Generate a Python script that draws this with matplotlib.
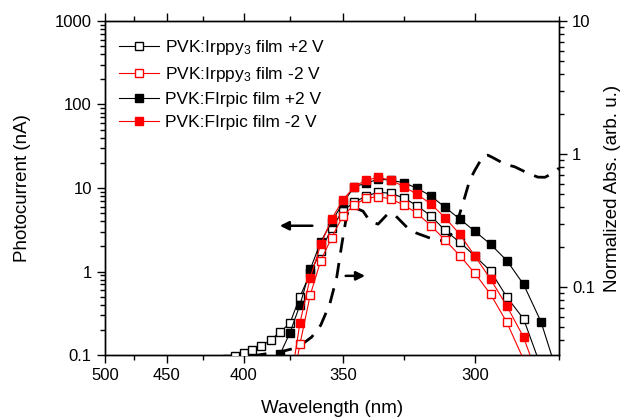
import numpy as np
import matplotlib
matplotlib.use("Agg")
import matplotlib.pyplot as plt
from matplotlib.ticker import FixedLocator, FixedFormatter, LogLocator, NullFormatter

plt.rcParams['font.family'] = ['Liberation Sans', 'DejaVu Sans']
plt.rcParams['mathtext.default'] = 'regular'

TICKLBLSIZE = 12
LEGENDSIZE = 12.5
AXISLBLSIZE = 13.5

# photocurrent, PVK:Irppy3 film +2 V (open black)
wl_irppy_p = [410, 405, 400, 395, 390, 385, 380, 375, 370, 365, 360, 355, 350, 345,
              340, 335, 330, 325, 320, 315, 310, 305, 300, 295, 290, 285, 280]
pc_irppy_p = [0.09, 0.098, 0.105, 0.115, 0.129, 0.151, 0.19, 0.24, 0.5, 0.95, 1.77, 3.29,
              5.35, 6.74, 8.02, 8.89, 8.64, 7.59, 6.14, 4.62, 3.11, 2.24, 1.53, 1.01,
              0.495, 0.27, 0.072]

# PVK:Irppy3 film -2 V (open red)
wl_irppy_n = [375, 370, 365, 360, 355, 350, 345, 340, 335, 330, 325, 320, 315, 310,
              305, 300, 295, 290, 285]
pc_irppy_n = [0.03, 0.135, 0.523, 1.35, 2.54, 4.62, 6.3, 7.53, 7.87, 7.38, 6.26, 4.98,
              3.54, 2.38, 1.55, 0.951, 0.533, 0.246, 0.088]

# PVK:FIrpic film +2 V (filled black)
wl_firpic_p = [385, 380, 375, 370, 365, 360, 355, 350, 345, 340, 335, 330, 325, 320,
               315, 310, 305, 300, 295, 290, 285, 280, 275]
pc_firpic_p = [0.06, 0.103, 0.185, 0.397, 1.06, 2.27, 3.95, 6.56, 10.37, 11.38, 12.8,
               12.4, 11.57, 9.92, 8.02, 5.87, 4.25, 3.03, 2.12, 1.35, 0.70, 0.25, 0.052]

# PVK:FIrpic film -2 V (filled red)
wl_firpic_n = [375, 370, 365, 360, 355, 350, 345, 340, 335, 330, 325, 320, 315, 310,
               305, 300, 295, 290, 285, 280]
pc_firpic_n = [0.041, 0.243, 0.843, 2.11, 4.25, 7.18, 10.37, 12.47, 13.36, 12.47, 10.37,
               8.41, 6.43, 4.41, 2.79, 1.53, 0.807, 0.386, 0.163, 0.043]

# normalized absorption (dashed, right axis)
wl_abs = [395, 392, 386.5, 380, 373.5, 367.5, 364.3, 360, 355.8, 352.7, 350.5, 348.3,
          346.9, 344, 341.3, 338.4, 335.1, 331.1, 328.4, 322.7, 320.2, 314.3, 310.1,
          306.7, 305, 303.3, 301.7, 300, 297.4, 295.9, 294.6, 290.6, 287.6, 283.8,
          280.9, 278.9, 276.7, 275]
ab = [0.029, 0.031, 0.0318, 0.0327, 0.0346, 0.0388, 0.0423, 0.052, 0.0754, 0.119, 0.207,
      0.348, 0.393, 0.39, 0.373, 0.313, 0.298, 0.358, 0.348, 0.268, 0.255, 0.230, 0.222,
      0.268, 0.358, 0.478, 0.638, 0.758, 0.966, 0.982, 0.95, 0.841, 0.803, 0.720,
      0.672, 0.67, 0.72, 0.785]

xticks = [500, 450, 400, 350, 300]
xminor = [475, 425, 375, 325, 275]

fig = plt.figure(figsize=(6.23, 4.18), dpi=100)
ax = fig.add_axes([0.1685, 0.1507, 0.7288, 0.7991])
ax2 = ax.twinx()

# x axis is linear in photon energy (1/wavelength)
def fwd(x):
    return -1000.0 / np.asarray(x, dtype=float)

ax.set_xscale('function', functions=(fwd, fwd))

ms = 5.3
ax.plot(wl_irppy_p, pc_irppy_p, color='k', lw=0.8, marker='s', ms=ms, mfc='white',
        mec='k', mew=1.0, label='PVK:Irppy$_3$ film +2 V', zorder=3)
ax.plot(wl_irppy_n, pc_irppy_n, color='red', lw=0.8, marker='s', ms=ms, mfc='white',
        mec='red', mew=1.0, label='PVK:Irppy$_3$ film -2 V', zorder=3)
ax.plot(wl_firpic_p, pc_firpic_p, color='k', lw=0.8, marker='s', ms=ms, mfc='k',
        mec='k', label='PVK:FIrpic film +2 V', zorder=3)
ax.plot(wl_firpic_n, pc_firpic_n, color='red', lw=0.8, marker='s', ms=ms, mfc='red',
        mec='red', label='PVK:FIrpic film -2 V', zorder=3)

ax2.plot(wl_abs, ab, color='k', lw=2.0, ls=(0, (5.5, 3.8)))

ax.set_xlim(500, 275)
ax.xaxis.set_major_locator(FixedLocator(xticks))
ax.xaxis.set_major_formatter(FixedFormatter([str(t) for t in xticks]))
ax.xaxis.set_minor_locator(FixedLocator(xminor))
ax.xaxis.set_minor_formatter(NullFormatter())

ax.set_yscale('log')
ax.set_ylim(0.1, 1000)
ax.yaxis.set_major_locator(FixedLocator([0.1, 1, 10, 100, 1000]))
ax.yaxis.set_major_formatter(FixedFormatter(['0.1', '1', '10', '100', '1000']))
ax.yaxis.set_minor_locator(LogLocator(base=10, subs=np.arange(2, 10)))
ax.yaxis.set_minor_formatter(NullFormatter())

ax2.set_yscale('log')
ax2.set_ylim(0.031, 10)
ax2.yaxis.set_major_locator(FixedLocator([0.1, 1, 10]))
ax2.yaxis.set_major_formatter(FixedFormatter(['0.1', '1', '10']))
ax2.yaxis.set_minor_locator(LogLocator(base=10, subs=np.arange(2, 10)))
ax2.yaxis.set_minor_formatter(NullFormatter())

ax.tick_params(which='both', direction='out', top=True, right=False, labelsize=TICKLBLSIZE, width=1)
ax.tick_params(which='major', length=6)
ax.tick_params(which='minor', length=3.5)
ax2.tick_params(which='both', direction='out', labelsize=TICKLBLSIZE, width=1)
ax2.tick_params(which='major', length=6)
ax2.tick_params(which='minor', length=3.5)

for a in (ax, ax2):
    for s in a.spines.values():
        s.set_linewidth(1.0)

ax.set_xlabel('Wavelength (nm)', fontsize=AXISLBLSIZE)
ax.set_ylabel('Photocurrent (nA)', fontsize=AXISLBLSIZE)
ax2.set_ylabel('Normalized Abs. (arb. u.)', fontsize=AXISLBLSIZE)
ax.xaxis.set_label_coords(0.5, -0.135)
ax.yaxis.set_label_coords(-0.163, 0.5)
ax2.yaxis.set_label_coords(1.099, 0.5)

# arrows pointing to the relevant axes
ax.annotate('', xy=(0.379, 0.387), xytext=(0.463, 0.387), xycoords='axes fraction',
            arrowprops=dict(arrowstyle='-|>', lw=1.8, color='k', mutation_scale=13))
ax.annotate('', xy=(0.579, 0.237), xytext=(0.524, 0.237), xycoords='axes fraction',
            arrowprops=dict(arrowstyle='-|>', lw=1.8, color='k', mutation_scale=13))

ax.legend(loc='upper left', bbox_to_anchor=(0.005, 0.985), frameon=False, fontsize=LEGENDSIZE,
          numpoints=1, handlelength=2.3, handletextpad=0.3, labelspacing=0.45, borderaxespad=0.3)

ax.set_zorder(ax2.get_zorder() + 1)
ax.patch.set_visible(False)

plt.savefig('out.png', dpi=100)
